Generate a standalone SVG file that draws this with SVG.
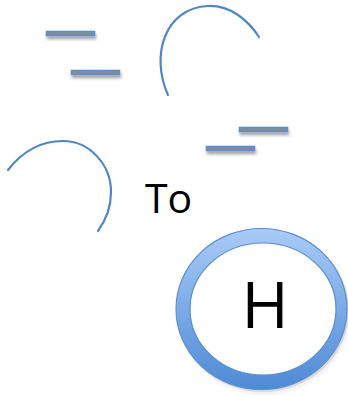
<svg xmlns="http://www.w3.org/2000/svg" width="348" height="395" viewBox="0 0 348 395">
<defs>
<filter id="sh" x="-20%" y="-50%" width="140%" height="400%">
<feGaussianBlur in="SourceAlpha" stdDeviation="1.8"/>
<feOffset dx="1" dy="3" result="b"/>
<feComponentTransfer><feFuncA type="linear" slope="0.35"/></feComponentTransfer>
<feMerge><feMergeNode/><feMergeNode in="SourceGraphic"/></feMerge>
</filter>
<linearGradient id="ring" x1="0" y1="0" x2="0" y2="1">
<stop offset="0" stop-color="#a9cbf7"/>
<stop offset="1" stop-color="#4f8ad6"/>
</linearGradient>
<style>
.dash{fill:#8a8a8a;stroke:#5b8fd0;stroke-width:1.6}
.arc{fill:none;stroke:#4f86c6;stroke-width:2.2;stroke-linecap:round}
.t{font-family:"Open Sans","Liberation Sans",sans-serif;fill:#000}
</style>
</defs>
<g id="dash1" filter="url(#sh)"><rect class="dash" x="46.5" y="31.5" width="48" height="4"/></g>
<g id="dash2" filter="url(#sh)"><rect class="dash" x="71.5" y="70.5" width="48" height="4"/></g>
<g id="dash3" filter="url(#sh)"><rect class="dash" x="239.5" y="127.5" width="48" height="4"/></g>
<g id="dash4" filter="url(#sh)"><rect class="dash" x="206.5" y="146.5" width="48" height="4"/></g>
<g id="arc1"><path class="arc" d="M168,95 C150,55 165,8 208,6 C230,5 248,20 259,37"/></g>
<g id="arc2"><path class="arc" d="M8,170 C25,148 45,141 63,141 C90,141 111,165 111,192 C111,207 106,220 98,231"/></g>
<g id="to"><text class="t" x="145" y="213" font-size="41">To</text></g>
<g id="ring">
<ellipse cx="263" cy="311" rx="86" ry="81" fill="#000" opacity="0.15" filter="url(#sh)"/>
<ellipse cx="261.5" cy="309" rx="85.5" ry="80.5" fill="url(#ring)" stroke="#5a8ed0" stroke-width="1.2"/>
<ellipse cx="263" cy="309" rx="73" ry="66" fill="#fff" stroke="#5a8ed0" stroke-width="1.2"/>
<text class="t" x="265" y="328" font-size="64" text-anchor="middle">H</text>
</g>
</svg>
